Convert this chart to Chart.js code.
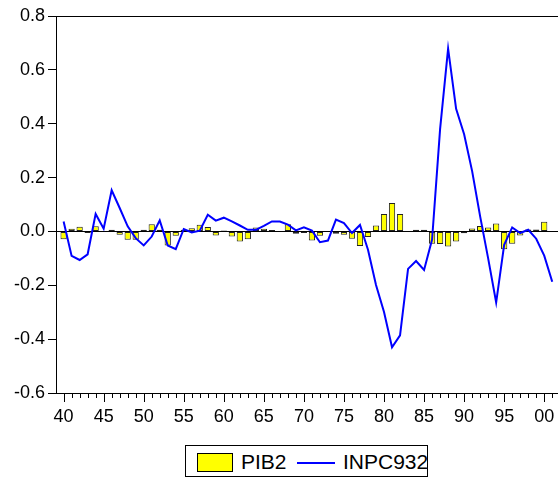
<!DOCTYPE html>
<html>
<head>
<meta charset="utf-8">
<script src="https://cdn.jsdelivr.net/npm/chart.js@4/dist/chart.umd.min.js"></script>
<style>
  html, body { margin: 0; padding: 0; background: #fff; }
  body { width: 558px; height: 479px; position: relative; overflow: hidden; font-family: "Liberation Sans", Arial, sans-serif; }
  #wrap { position: absolute; left: 0; top: 0; width: 558px; height: 440px; }
  #legend { position: absolute; left: 185px; top: 445px; width: 241px; height: 30px; border: 1px solid #000; }
  #legend .sw { position: absolute; left: 11px; top: 7px; width: 36px; height: 19px; background: #ffff00; border: 1px solid #000; box-sizing: border-box; }
  #legend .ln { position: absolute; left: 111px; top: 16px; width: 38px; height: 2px; background: #0000ff; }
  #legend span { position: absolute; top: 3px; font-size: 21px; line-height: 26px; color: #000; }
</style>
</head>
<body>
<div id="wrap"><canvas id="chart"></canvas></div>
<div id="legend">
  <div class="sw"></div><span style="left:55px">PIB2</span>
  <div class="ln"></div><span style="left:157px">INPC932</span>
</div>
<script>
// ==================== DATA ====================
const years = [];
for (let y = 1940; y <= 2001; y++) years.push(y);

const pib2 = [
  -0.029, 0.010, 0.017, -0.006, 0.019, 0.002, 0.006, -0.012, -0.031, -0.031,
  0.006, 0.027, 0.006, -0.052, -0.016, 0.006, 0.012, 0.025, 0.016, -0.015,
  0.003, -0.019, -0.037, -0.029, 0.015, 0.010, 0.005, 0.001, 0.027, -0.009,
  -0.006, -0.034, -0.016, -0.002, -0.009, -0.012, -0.027, -0.054, -0.021, 0.022,
  0.065, 0.106, 0.065, 0.001, 0.006, 0.006, -0.046, -0.047, -0.056, -0.037,
  -0.007, 0.011, 0.020, 0.015, 0.029, -0.066, -0.046, -0.015, 0.007, 0.007,
  0.036, 0.001
];

const inpc932 = [
  0.037, -0.091, -0.106, -0.085, 0.065, 0.010, 0.153, 0.087, 0.019, -0.025,
  -0.052, -0.019, 0.041, -0.052, -0.066, 0.009, -0.004, 0.003, 0.062, 0.040,
  0.051, 0.037, 0.022, 0.006, 0.006, 0.021, 0.037, 0.037, 0.025, 0.004,
  0.015, 0.003, -0.040, -0.034, 0.044, 0.031, -0.006, 0.024, -0.068, -0.199,
  -0.299, -0.430, -0.386, -0.139, -0.110, -0.143, -0.030, 0.380, 0.679, 0.455,
  0.361, 0.224, 0.056, -0.100, -0.264, -0.050, 0.015, -0.006, 0.006, -0.027,
  -0.090, -0.187
];

const yTicks = [-0.6, -0.4, -0.2, 0.0, 0.2, 0.4, 0.6, 0.8];

// ==================== CHART ====================
Chart.defaults.font.family = "'Liberation Sans', Arial, sans-serif";
Chart.defaults.color = "#000";

// top frame line + year ticks under the x axis
const frame = {
  id: "frame",
  afterDraw(chart) {
    const { ctx, chartArea: a, scales: { x } } = chart;
    ctx.save();
    ctx.strokeStyle = "#000";
    ctx.lineWidth = 1;
    ctx.beginPath();
    ctx.moveTo(a.left, a.top + 0.5);
    ctx.lineTo(a.right, a.top + 0.5);
    years.forEach(yr => {
      const px = Math.round(x.getPixelForValue(yr)) + 0.5;
      const len = yr % 5 === 0 ? 9 : 5;
      ctx.moveTo(px, a.bottom);
      ctx.lineTo(px, a.bottom + len);
    });
    ctx.stroke();
    ctx.restore();
  }
};

new Chart(document.getElementById("chart"), {
  type: "bar",
  data: {
    datasets: [{
      type: "line",
      label: "INPC932",
      data: years.map((yr, i) => ({ x: yr, y: inpc932[i] })),
      borderColor: "#0000ff",
      borderWidth: 2,
      pointRadius: 0,
      tension: 0,
      order: 0
    }, {
      label: "PIB2",
      data: years.map((yr, i) => ({ x: yr, y: pib2[i] })),
      backgroundColor: "#ffff00",
      borderColor: "#222",
      borderWidth: 1,
      borderSkipped: false,
      barPercentage: 0.78,
      categoryPercentage: 1,
      order: 1
    }]
  },
  options: {
    responsive: true,
    maintainAspectRatio: false,
    animation: false,
    layout: { padding: { top: 16, right: 0, left: 0, bottom: 0 } },
    plugins: { legend: { display: false }, tooltip: { enabled: false } },
    scales: {
      x: {
        type: "linear",
        offset: false,
        min: 1939.05,
        max: 2001.72,
        grid: { display: false, drawTicks: false, offset: false },
        border: { display: true, color: "#000", width: 1 },
        ticks: {
          stepSize: 1,
          includeBounds: false,
          autoSkip: false,
          maxRotation: 0,
          padding: 13,
          font: { size: 18 },
          callback: v => (Number.isInteger(v) && v % 5 === 0) ? String(v % 100).padStart(2, "0") : ""
        },
        afterFit: s => { s.height = 47; s.paddingLeft = 0; s.paddingRight = 0; }
      },
      y: {
        min: -0.6,
        max: 0.8,
        afterBuildTicks: s => { s.ticks = yTicks.map(v => ({ value: v })); },
        grid: {
          drawOnChartArea: true,
          color: c => (c.tick && Math.abs(c.tick.value) < 1e-9) ? "#000" : "rgba(0,0,0,0)",
          tickColor: "#000",
          tickLength: 8
        },
        border: { display: true, color: "#000", width: 1 },
        ticks: {
          padding: 3,
          font: { size: 18 },
          callback: v => Math.abs(v) < 1e-9 ? "0.0" : v.toFixed(1)
        },
        afterFit: s => { s.width = 56; }
      }
    }
  },
  plugins: [frame]
});
</script>
</body>
</html>
